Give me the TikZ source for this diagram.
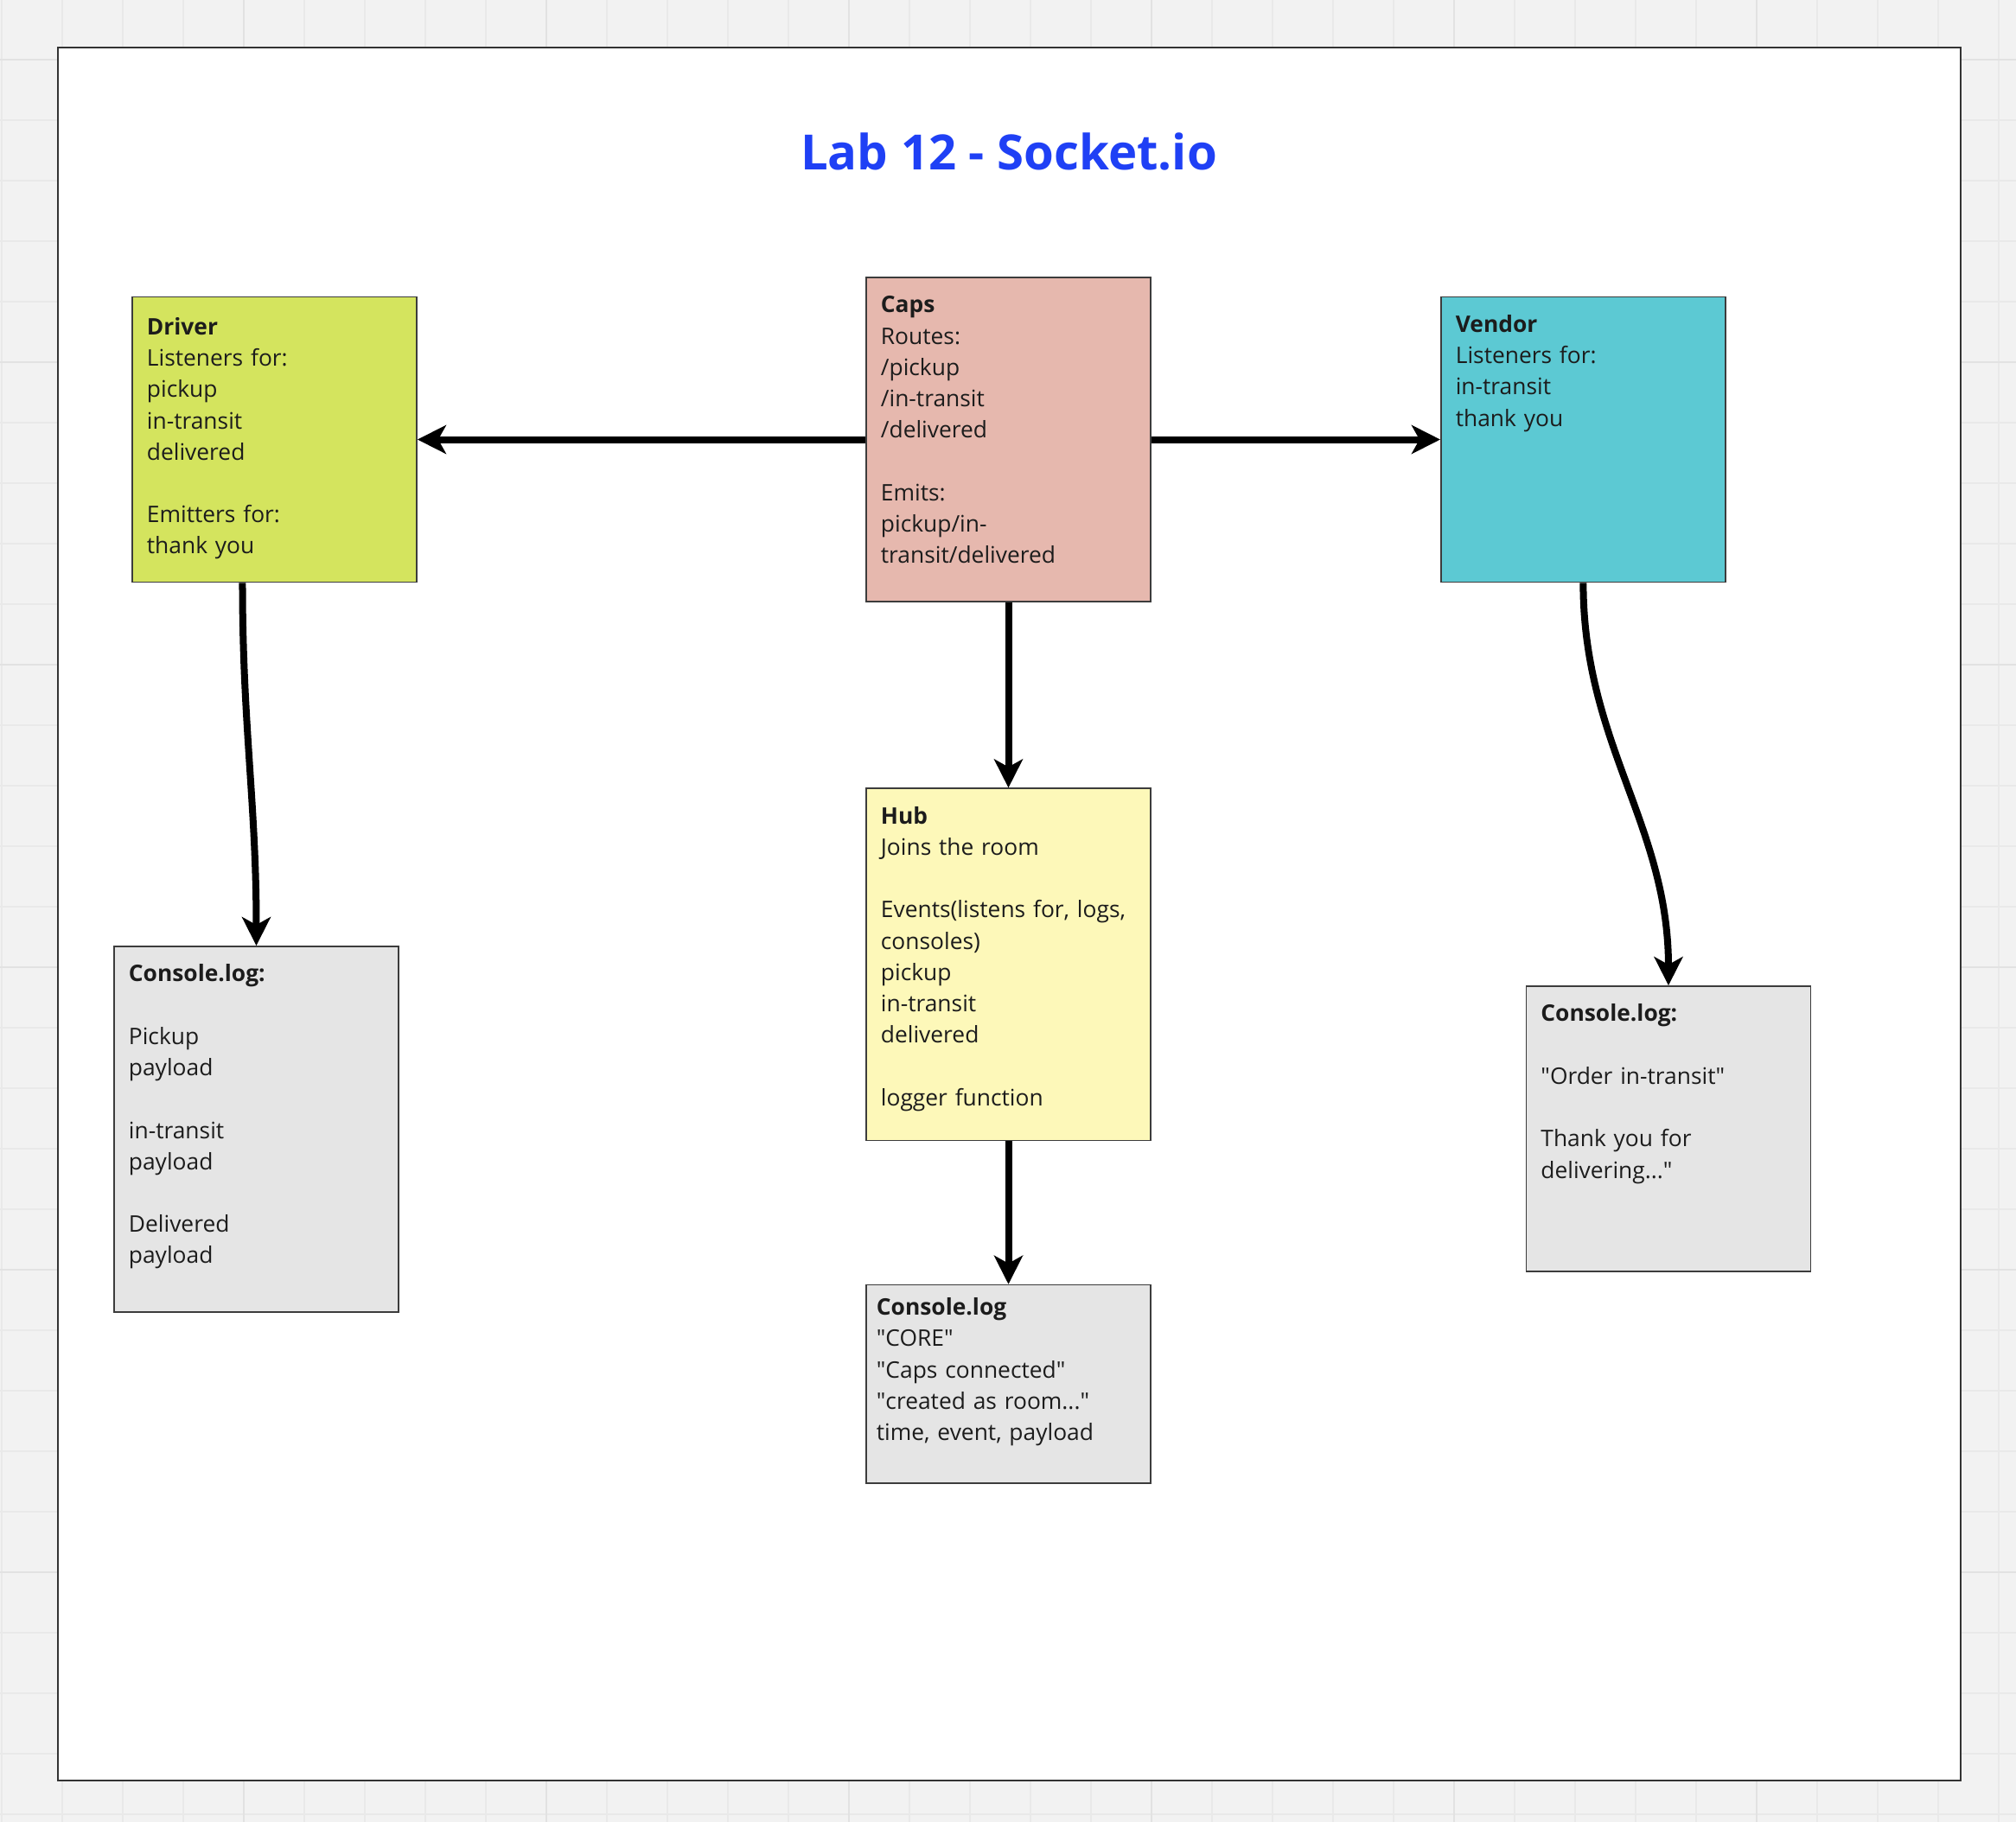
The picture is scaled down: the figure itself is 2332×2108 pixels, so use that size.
\documentclass[tikz,border=0pt]{standalone}
\usepackage{fontspec}
\setmainfont{Open Sans}
\usetikzlibrary{arrows.meta, positioning}

\definecolor{bggrey}{HTML}{F2F2F2}
\definecolor{gridgrey}{HTML}{E9E9E9}
\definecolor{majorgrey}{HTML}{E2E2E2}
\definecolor{framegrey}{HTML}{333333}
\definecolor{titleblue}{HTML}{1F40F5}
\definecolor{driverlime}{HTML}{D4E45E}
\definecolor{capsrose}{HTML}{E6B8AE}
\definecolor{vendorteal}{HTML}{5CC9D3}
\definecolor{hubyellow}{HTML}{FDF8B9}
\definecolor{loggrey}{HTML}{E5E5E5}
\definecolor{cardline}{HTML}{3C3C3C}
\definecolor{inkgrey}{HTML}{1C1C1C}

\newcommand{\cardfont}{\fontsize{7.5pt}{10.3pt}\selectfont}
\newcommand{\qq}{\textquotedbl}

\begin{document}
\begin{tikzpicture}[x=0.01cm, y=-0.01cm,
card/.style={draw=cardline, line width=0.45pt, inner xsep=0.17cm, inner ysep=0pt,
  text width=2.95cm, align=left, text height=0.41cm, font=\cardfont, text=inkgrey},
arrow/.style={-{Stealth[length=0.33cm, width=0.33cm, inset=0.09cm]}, line width=0.08cm},
title/.style={font=\fontsize{16pt}{20pt}\selectfont\bfseries, text=titleblue}]

\useasboundingbox (0,0) rectangle (2332,2108);
\fill[bggrey] (0,0) rectangle (2332,2108);
\foreach \gx in {2,72,...,2332} \draw[gridgrey, line width=0.6pt] (\gx,0) -- (\gx,2108);
\foreach \gy in {69,139,...,2108} \draw[gridgrey, line width=0.6pt] (0,\gy) -- (2332,\gy);
\foreach \gx in {282,632,...,2332} \draw[majorgrey, line width=0.8pt] (\gx,0) -- (\gx,2108);
\foreach \gy in {69,419,...,2108} \draw[majorgrey, line width=0.8pt] (0,\gy) -- (2332,\gy);
\draw[framegrey, fill=white, line width=0.6pt] (67,55) rectangle (2268,2060);

\node [title, anchor=base] (title) at (1167,196) {Lab 12 - Socket.io};

% top row
\node [card, fill=capsrose, text depth=3.34cm] (caps) at (1166.5,508.5)
  {\textbf{Caps}\\Routes:\\/pickup\\/in-transit\\/delivered\\\mbox{}\\Emits:\\pickup/in-\\transit/delivered};
\node [card, fill=driverlime, text height=0.44cm, text depth=2.86cm, left of=caps, node distance=8.485cm] (driver)
  {\textbf{Driver}\\Listeners for:\\pickup\\in-transit\\delivered\\\mbox{}\\Emitters for:\\thank you};
\node [card, fill=vendorteal, text depth=2.89cm, right of=caps, node distance=6.645cm] (vendor)
  {\textbf{Vendor}\\Listeners for:\\in-transit\\thank you};

% middle column
\node [card, fill=hubyellow, text depth=3.66cm, below of=caps, node distance=6.07cm] (hub)
  {\textbf{Hub}\\Joins the room\\\mbox{}\\Events(listens for, logs,\\consoles)\\pickup\\in-transit\\delivered\\\mbox{}\\logger function};
\node [card, fill=loggrey, inner xsep=0.12cm, text width=3.05cm, text height=0.35cm, text depth=1.94cm,
  below of=hub, node distance=4.85cm] (logmid)
  {\textbf{Console.log}\\\qq CORE\qq\\\qq Caps connected\qq\\\qq created as room...\qq\\time, event, payload};

% side consoles
\node [card, fill=loggrey, text depth=3.82cm] (logleft) at (296.5,1306.5)
  {\textbf{Console.log:}\\\mbox{}\\Pickup\\payload\\\mbox{}\\in-transit\\payload\\\mbox{}\\Delivered\\payload};
\node [card, fill=loggrey, text depth=2.89cm] (logright) at (1930,1306)
  {\textbf{Console.log:}\\\mbox{}\\\qq Order in-transit\qq\\\mbox{}\\Thank you for\\delivering...\qq};

\draw [arrow] (caps) -- (driver);
\draw [arrow] (caps) -- (vendor);
\draw [arrow] (caps) -- (hub);
\draw [arrow] (hub) -- (logmid);
\draw [arrow] ([xshift=-0.37cm]driver.south) to [out=-90, in=90] (logleft.north);
\draw [arrow] (vendor.south) to [out=-90, in=90] (logright.north);

\end{tikzpicture}
\end{document}
